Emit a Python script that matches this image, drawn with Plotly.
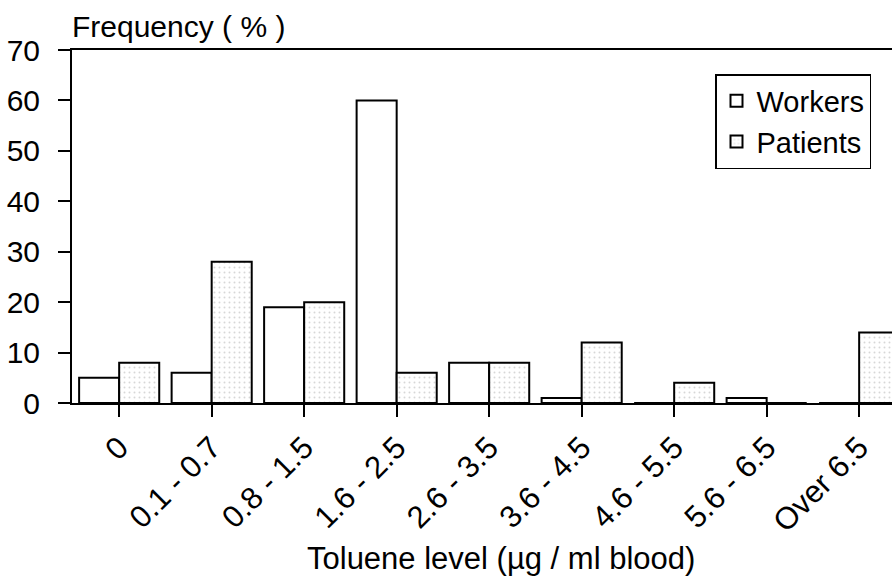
import plotly.graph_objects as go

categories = ["0", "0.1 - 0.7", "0.8 - 1.5", "1.6 - 2.5", "2.6 - 3.5",
              "3.6 - 4.5", "4.6 - 5.5", "5.6 - 6.5", "Over 6.5"]
workers = [5, 6, 19, 60, 8, 1, 0, 1, 0]
patients = [8, 28, 20, 6, 8, 12, 4, 0, 14]
y_ticks = [0, 10, 20, 30, 40, 50, 60, 70]

FONT = "Liberation Sans, Arial, sans-serif"
W, H = 892, 582
L, R, T, B = 72, 0, 50, 179
PW, PH = W - L - R, H - T - B


def px(x):
    return (x - L) / PW


def py(y):
    return (H - B - y) / PH


fig = go.Figure()
fig.add_trace(go.Bar(
    x=list(range(len(categories))), y=workers, name="Workers",
    marker=dict(color="white", line=dict(color="black", width=2)),
))
fig.add_trace(go.Bar(
    x=list(range(len(categories))), y=patients, name="Patients",
    marker=dict(color="white", line=dict(color="black", width=2),
                pattern=dict(shape=".", fgcolor="#b0b0b0", bgcolor="white",
                             size=5, solidity=0.12)),
))

fig.update_layout(
    width=W, height=H,
    margin=dict(l=L, r=R, t=T, b=B, autoexpand=False),
    paper_bgcolor="white", plot_bgcolor="white",
    barmode="group", bargap=0.134, bargroupgap=0,
    font=dict(family=FONT, size=30, color="black"),
    showlegend=True,
    legend=dict(x=px(715), y=py(74), xanchor="left", yanchor="top",
                bgcolor="white", bordercolor="black", borderwidth=1.5,
                font=dict(size=29), itemwidth=30, tracegroupgap=0),
    xaxis=dict(
        range=[-0.51, 8.355], tickmode="array",
        tickvals=list(range(len(categories))), ticktext=categories,
        tickangle=-45, ticks="outside", ticklen=12, tickwidth=1.5,
        tickcolor="black", showline=True, linecolor="black", linewidth=2,
        mirror=True, showgrid=False, zeroline=False, automargin=False,
        tickfont=dict(size=31),
    ),
    yaxis=dict(
        range=[0, 70], tickmode="array", tickvals=y_ticks,
        ticks="outside", ticklen=12, tickwidth=1.5, tickcolor="black",
        showline=True, linecolor="black", linewidth=2, mirror=False,
        showgrid=False, zeroline=False, tickfont=dict(size=30),
        ticklabelstandoff=12, automargin=False,
    ),
    annotations=[
        dict(text="Frequency ( % )", xref="paper", yref="paper",
             x=px(70), y=py(8), xanchor="left", yanchor="top",
             showarrow=False, font=dict(size=30)),
        dict(text="Toluene level (\u00b5g / ml blood)", xref="paper", yref="paper",
             x=px(501), y=py(578), xanchor="center", yanchor="bottom",
             showarrow=False, font=dict(size=31)),
    ],
)

fig.write_html("out.html",
               config={"displayModeBar": False},
               post_script="document.body.style.margin='0';"
                           "document.body.style.overflow='hidden';")
